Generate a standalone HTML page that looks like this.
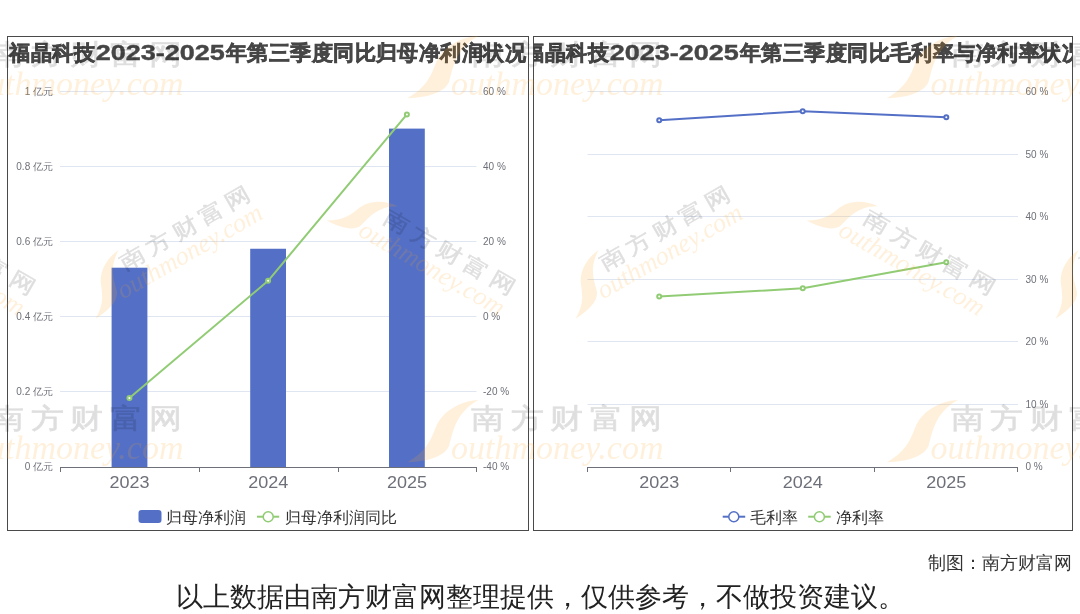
<!DOCTYPE html>
<html><head><meta charset="utf-8">
<style>
html,body{margin:0;padding:0;background:#fff;}
body{width:1080px;height:614px;overflow:hidden;position:relative;font-family:"Liberation Sans", sans-serif;}
svg{position:absolute;left:0;top:0;will-change:transform;}
text{font-family:"Liberation Sans", sans-serif;}
</style></head><body>
<svg width="1080" height="614" viewBox="0 0 1080 614">
<defs>
<clipPath id="cl"><rect x="8" y="37" width="520" height="493"/></clipPath>
<clipPath id="cr"><rect x="534" y="37" width="538" height="493"/></clipPath>
</defs>
<rect x="0" y="0" width="1080" height="614" fill="#fff"/>

<g>
<rect x="60" y="91" width="416.5" height="1" fill="#E0E6F1"/>
<rect x="60" y="166" width="416.5" height="1" fill="#E0E6F1"/>
<rect x="60" y="241" width="416.5" height="1" fill="#E0E6F1"/>
<rect x="60" y="316" width="416.5" height="1" fill="#E0E6F1"/>
<rect x="60" y="391" width="416.5" height="1" fill="#E0E6F1"/>
<rect x="111.6" y="267.7" width="35.8" height="199.3" fill="#5470C6"/>
<rect x="250.2" y="248.75" width="35.8" height="218.25" fill="#5470C6"/>
<rect x="389.0" y="128.6" width="35.8" height="338.4" fill="#5470C6"/>
<rect x="60" y="467" width="416.5" height="1" fill="#6E7079"/>
<rect x="60" y="467" width="1" height="5" fill="#6E7079"/>
<rect x="199" y="467" width="1" height="5" fill="#6E7079"/>
<rect x="338" y="467" width="1" height="5" fill="#6E7079"/>
<rect x="476" y="467" width="1" height="5" fill="#6E7079"/>
<polyline points="129.4,397.9 268.1,280.8 406.9,114.4" fill="none" stroke="#91CC75" stroke-width="2" stroke-linejoin="round"/>
<circle cx="129.4" cy="397.9" r="2" fill="#fff" stroke="#91CC75" stroke-width="2"/>
<circle cx="268.1" cy="280.8" r="2" fill="#fff" stroke="#91CC75" stroke-width="2"/>
<circle cx="406.9" cy="114.4" r="2" fill="#fff" stroke="#91CC75" stroke-width="2"/>
<text x="53" y="94.5" text-anchor="end" font-size="10" fill="#6E7079">1 亿元</text>
<text x="53" y="169.5" text-anchor="end" font-size="10" fill="#6E7079">0.8 亿元</text>
<text x="53" y="244.5" text-anchor="end" font-size="10" fill="#6E7079">0.6 亿元</text>
<text x="53" y="319.5" text-anchor="end" font-size="10" fill="#6E7079">0.4 亿元</text>
<text x="53" y="394.5" text-anchor="end" font-size="10" fill="#6E7079">0.2 亿元</text>
<text x="53" y="469.5" text-anchor="end" font-size="10" fill="#6E7079">0 亿元</text>
<text x="483" y="94.5" font-size="10" fill="#6E7079">60 %</text>
<text x="483" y="169.5" font-size="10" fill="#6E7079">40 %</text>
<text x="483" y="244.5" font-size="10" fill="#6E7079">20 %</text>
<text x="483" y="319.5" font-size="10" fill="#6E7079">0 %</text>
<text x="483" y="394.5" font-size="10" fill="#6E7079">-20 %</text>
<text x="483" y="469.5" font-size="10" fill="#6E7079">-40 %</text>
<text x="129.4" y="488" text-anchor="middle" font-size="16" fill="#6E7079" textLength="40" lengthAdjust="spacingAndGlyphs">2023</text>
<text x="268.2" y="488" text-anchor="middle" font-size="16" fill="#6E7079" textLength="40" lengthAdjust="spacingAndGlyphs">2024</text>
<text x="407" y="488" text-anchor="middle" font-size="16" fill="#6E7079" textLength="40" lengthAdjust="spacingAndGlyphs">2025</text>
<rect x="138.5" y="510" width="23" height="13" rx="3" fill="#5470C6"/>
<text x="166" y="522.5" font-size="16" fill="#333">归母净利润</text>
<line x1="257" y1="516.7" x2="279.2" y2="516.7" stroke="#91CC75" stroke-width="2"/>
<circle cx="268.2" cy="516.7" r="5" fill="#fff" stroke="#91CC75" stroke-width="1.5"/>
<text x="284.5" y="522.5" font-size="16" fill="#333">归母净利润同比</text>
</g>
<g>
<rect x="587.5" y="91" width="430.5" height="1" fill="#E0E6F1"/>
<rect x="587.5" y="154" width="430.5" height="1" fill="#E0E6F1"/>
<rect x="587.5" y="216" width="430.5" height="1" fill="#E0E6F1"/>
<rect x="587.5" y="279" width="430.5" height="1" fill="#E0E6F1"/>
<rect x="587.5" y="341" width="430.5" height="1" fill="#E0E6F1"/>
<rect x="587.5" y="404" width="430.5" height="1" fill="#E0E6F1"/>
<rect x="587.5" y="467" width="430.5" height="1" fill="#6E7079"/>
<rect x="587" y="467" width="1" height="5" fill="#6E7079"/>
<rect x="730" y="467" width="1" height="5" fill="#6E7079"/>
<rect x="874" y="467" width="1" height="5" fill="#6E7079"/>
<rect x="1017" y="467" width="1" height="5" fill="#6E7079"/>
<polyline points="659.2,120.2 802.7,111.3 946.3,117.2" fill="none" stroke="#5470C6" stroke-width="2" stroke-linejoin="round"/>
<circle cx="659.2" cy="120.2" r="2" fill="#fff" stroke="#5470C6" stroke-width="2"/>
<circle cx="802.7" cy="111.3" r="2" fill="#fff" stroke="#5470C6" stroke-width="2"/>
<circle cx="946.3" cy="117.2" r="2" fill="#fff" stroke="#5470C6" stroke-width="2"/>
<polyline points="659.2,296.6 802.8,288.3 946.3,262.2" fill="none" stroke="#91CC75" stroke-width="2" stroke-linejoin="round"/>
<circle cx="659.2" cy="296.6" r="2" fill="#fff" stroke="#91CC75" stroke-width="2"/>
<circle cx="802.8" cy="288.3" r="2" fill="#fff" stroke="#91CC75" stroke-width="2"/>
<circle cx="946.3" cy="262.2" r="2" fill="#fff" stroke="#91CC75" stroke-width="2"/>
<text x="1025.5" y="94.5" font-size="10" fill="#6E7079">60 %</text>
<text x="1025.5" y="157.5" font-size="10" fill="#6E7079">50 %</text>
<text x="1025.5" y="219.5" font-size="10" fill="#6E7079">40 %</text>
<text x="1025.5" y="282.5" font-size="10" fill="#6E7079">30 %</text>
<text x="1025.5" y="344.5" font-size="10" fill="#6E7079">20 %</text>
<text x="1025.5" y="407.5" font-size="10" fill="#6E7079">10 %</text>
<text x="1025.5" y="469.5" font-size="10" fill="#6E7079">0 %</text>
<text x="659.2" y="488" text-anchor="middle" font-size="16" fill="#6E7079" textLength="40" lengthAdjust="spacingAndGlyphs">2023</text>
<text x="802.7" y="488" text-anchor="middle" font-size="16" fill="#6E7079" textLength="40" lengthAdjust="spacingAndGlyphs">2024</text>
<text x="946.3" y="488" text-anchor="middle" font-size="16" fill="#6E7079" textLength="40" lengthAdjust="spacingAndGlyphs">2025</text>
<line x1="722.7" y1="516.7" x2="745.2" y2="516.7" stroke="#5470C6" stroke-width="2"/>
<circle cx="733.8" cy="516.7" r="5" fill="#fff" stroke="#5470C6" stroke-width="1.5"/>
<text x="750" y="522.5" font-size="16" fill="#333">毛利率</text>
<line x1="808.2" y1="516.7" x2="830.7" y2="516.7" stroke="#91CC75" stroke-width="2"/>
<circle cx="819.4" cy="516.7" r="5" fill="#fff" stroke="#91CC75" stroke-width="1.5"/>
<text x="835.5" y="522.5" font-size="16" fill="#333">净利率</text>
</g>
<g clip-path="url(#cl)" font-weight="bold" fill="#464646" font-size="21.5">
<text x="9.30 30.77 52.24 73.71" y="59.5" font-size="21.4" stroke="#464646" stroke-width="0.6">福晶科技</text>
<text x="95.68" y="59.5" textLength="129" lengthAdjust="spacingAndGlyphs" stroke="#464646" stroke-width="0.4">2023-2025</text>
<text x="225.68 247.15 268.62 290.09 311.56 333.03 354.50 375.97 397.44 418.91 440.38 461.85 483.32 504.79" y="59.5" font-size="21.4" stroke="#464646" stroke-width="0.6">年第三季度同比归母净利润状况</text>
</g>
<g clip-path="url(#cr)" font-weight="bold" fill="#464646" font-size="21.5">
<text x="523.30 544.77 566.24 587.71" y="59.5" font-size="21.4" stroke="#464646" stroke-width="0.6">福晶科技</text>
<text x="609.68" y="59.5" textLength="129" lengthAdjust="spacingAndGlyphs" stroke="#464646" stroke-width="0.4">2023-2025</text>
<text x="739.68 761.15 782.62 804.09 825.56 847.03 868.50 889.97 911.44 932.91 954.38 975.85 997.32 1018.79 1040.26 1061.73" y="59.5" font-size="21.4" stroke="#464646" stroke-width="0.6">年第三季度同比毛利率与净利率状况</text>
</g>
<rect x="7.5" y="36.5" width="521" height="494" fill="none" stroke="#4a4a4a" stroke-width="1"/>
<rect x="533.5" y="36.5" width="539" height="494" fill="none" stroke="#4a4a4a" stroke-width="1"/>
<g transform="translate(-72.5,36)"><path d="M70.7 0 C52 1 34 12 28 28 C23 41 18 52 0 62.2 C22 61.5 37 56 41.5 46 C45 36 46 14 70.7 0 Z" fill="rgb(255,160,30)" fill-opacity="0.16"/><g opacity="0.125" transform="scale(1.18,1)"><text x="54.2 87.6 121.0 154.4 187.8" y="28" font-size="28" fill="#000" stroke="#000" stroke-width="0.7" stroke-linejoin="round">南方财富网</text></g><text x="43.5" y="58.5" font-size="34" font-style="italic" fill="rgb(255,160,30)" fill-opacity="0.16" style="font-family:'Liberation Serif',serif">outhmoney.com</text></g>
<g transform="translate(-72.5,400)"><path d="M70.7 0 C52 1 34 12 28 28 C23 41 18 52 0 62.2 C22 61.5 37 56 41.5 46 C45 36 46 14 70.7 0 Z" fill="rgb(255,160,30)" fill-opacity="0.16"/><g opacity="0.125" transform="scale(1.18,1)"><text x="54.2 87.6 121.0 154.4 187.8" y="28" font-size="28" fill="#000" stroke="#000" stroke-width="0.7" stroke-linejoin="round">南方财富网</text></g><text x="43.5" y="58.5" font-size="34" font-style="italic" fill="rgb(255,160,30)" fill-opacity="0.16" style="font-family:'Liberation Serif',serif">outhmoney.com</text></g>
<g transform="translate(407.5,36)"><path d="M70.7 0 C52 1 34 12 28 28 C23 41 18 52 0 62.2 C22 61.5 37 56 41.5 46 C45 36 46 14 70.7 0 Z" fill="rgb(255,160,30)" fill-opacity="0.16"/><g opacity="0.125" transform="scale(1.18,1)"><text x="54.2 87.6 121.0 154.4 187.8" y="28" font-size="28" fill="#000" stroke="#000" stroke-width="0.7" stroke-linejoin="round">南方财富网</text></g><text x="43.5" y="58.5" font-size="34" font-style="italic" fill="rgb(255,160,30)" fill-opacity="0.16" style="font-family:'Liberation Serif',serif">outhmoney.com</text></g>
<g transform="translate(407.5,400)"><path d="M70.7 0 C52 1 34 12 28 28 C23 41 18 52 0 62.2 C22 61.5 37 56 41.5 46 C45 36 46 14 70.7 0 Z" fill="rgb(255,160,30)" fill-opacity="0.16"/><g opacity="0.125" transform="scale(1.18,1)"><text x="54.2 87.6 121.0 154.4 187.8" y="28" font-size="28" fill="#000" stroke="#000" stroke-width="0.7" stroke-linejoin="round">南方财富网</text></g><text x="43.5" y="58.5" font-size="34" font-style="italic" fill="rgb(255,160,30)" fill-opacity="0.16" style="font-family:'Liberation Serif',serif">outhmoney.com</text></g>
<g transform="translate(887,36)"><path d="M70.7 0 C52 1 34 12 28 28 C23 41 18 52 0 62.2 C22 61.5 37 56 41.5 46 C45 36 46 14 70.7 0 Z" fill="rgb(255,160,30)" fill-opacity="0.16"/><g opacity="0.125" transform="scale(1.18,1)"><text x="54.2 87.6 121.0 154.4 187.8" y="28" font-size="28" fill="#000" stroke="#000" stroke-width="0.7" stroke-linejoin="round">南方财富网</text></g><text x="43.5" y="58.5" font-size="34" font-style="italic" fill="rgb(255,160,30)" fill-opacity="0.16" style="font-family:'Liberation Serif',serif">outhmoney.com</text></g>
<g transform="translate(887,400)"><path d="M70.7 0 C52 1 34 12 28 28 C23 41 18 52 0 62.2 C22 61.5 37 56 41.5 46 C45 36 46 14 70.7 0 Z" fill="rgb(255,160,30)" fill-opacity="0.16"/><g opacity="0.125" transform="scale(1.18,1)"><text x="54.2 87.6 121.0 154.4 187.8" y="28" font-size="28" fill="#000" stroke="#000" stroke-width="0.7" stroke-linejoin="round">南方财富网</text></g><text x="43.5" y="58.5" font-size="34" font-style="italic" fill="rgb(255,160,30)" fill-opacity="0.16" style="font-family:'Liberation Serif',serif">outhmoney.com</text></g>
<g transform="translate(-129.39999999999998,179.1) rotate(30) scale(0.77)"><path d="M70.7 0 C52 1 34 12 28 28 C23 41 18 52 0 62.2 C22 61.5 37 56 41.5 46 C45 36 46 14 70.7 0 Z" fill="rgb(255,160,30)" fill-opacity="0.16"/><g opacity="0.125" transform="scale(1.18,1)"><text x="54.2 87.6 121.0 154.4 187.8" y="28" font-size="28" fill="#000" stroke="#000" stroke-width="0.7" stroke-linejoin="round">南方财富网</text></g><text x="43.5" y="58.5" font-size="34" font-style="italic" fill="rgb(255,160,30)" fill-opacity="0.16" style="font-family:'Liberation Serif',serif">outhmoney.com</text></g>
<g transform="translate(350.6,179.1) rotate(30) scale(0.77)"><path d="M70.7 0 C52 1 34 12 28 28 C23 41 18 52 0 62.2 C22 61.5 37 56 41.5 46 C45 36 46 14 70.7 0 Z" fill="rgb(255,160,30)" fill-opacity="0.16"/><g opacity="0.125" transform="scale(1.18,1)"><text x="54.2 87.6 121.0 154.4 187.8" y="28" font-size="28" fill="#000" stroke="#000" stroke-width="0.7" stroke-linejoin="round">南方财富网</text></g><text x="43.5" y="58.5" font-size="34" font-style="italic" fill="rgb(255,160,30)" fill-opacity="0.16" style="font-family:'Liberation Serif',serif">outhmoney.com</text></g>
<g transform="translate(830.6,179.1) rotate(30) scale(0.77)"><path d="M70.7 0 C52 1 34 12 28 28 C23 41 18 52 0 62.2 C22 61.5 37 56 41.5 46 C45 36 46 14 70.7 0 Z" fill="rgb(255,160,30)" fill-opacity="0.16"/><g opacity="0.125" transform="scale(1.18,1)"><text x="54.2 87.6 121.0 154.4 187.8" y="28" font-size="28" fill="#000" stroke="#000" stroke-width="0.7" stroke-linejoin="round">南方财富网</text></g><text x="43.5" y="58.5" font-size="34" font-style="italic" fill="rgb(255,160,30)" fill-opacity="0.16" style="font-family:'Liberation Serif',serif">outhmoney.com</text></g>
<g transform="translate(71.6,277.2) rotate(-30) scale(0.77)"><path d="M70.7 0 C52 1 34 12 28 28 C23 41 18 52 0 62.2 C22 61.5 37 56 41.5 46 C45 36 46 14 70.7 0 Z" fill="rgb(255,160,30)" fill-opacity="0.16"/><g opacity="0.125" transform="scale(1.18,1)"><text x="54.2 87.6 121.0 154.4 187.8" y="28" font-size="28" fill="#000" stroke="#000" stroke-width="0.7" stroke-linejoin="round">南方财富网</text></g><text x="43.5" y="58.5" font-size="34" font-style="italic" fill="rgb(255,160,30)" fill-opacity="0.16" style="font-family:'Liberation Serif',serif">outhmoney.com</text></g>
<g transform="translate(551.6,277.2) rotate(-30) scale(0.77)"><path d="M70.7 0 C52 1 34 12 28 28 C23 41 18 52 0 62.2 C22 61.5 37 56 41.5 46 C45 36 46 14 70.7 0 Z" fill="rgb(255,160,30)" fill-opacity="0.16"/><g opacity="0.125" transform="scale(1.18,1)"><text x="54.2 87.6 121.0 154.4 187.8" y="28" font-size="28" fill="#000" stroke="#000" stroke-width="0.7" stroke-linejoin="round">南方财富网</text></g><text x="43.5" y="58.5" font-size="34" font-style="italic" fill="rgb(255,160,30)" fill-opacity="0.16" style="font-family:'Liberation Serif',serif">outhmoney.com</text></g>
<g transform="translate(1031.6,277.2) rotate(-30) scale(0.77)"><path d="M70.7 0 C52 1 34 12 28 28 C23 41 18 52 0 62.2 C22 61.5 37 56 41.5 46 C45 36 46 14 70.7 0 Z" fill="rgb(255,160,30)" fill-opacity="0.16"/><g opacity="0.125" transform="scale(1.18,1)"><text x="54.2 87.6 121.0 154.4 187.8" y="28" font-size="28" fill="#000" stroke="#000" stroke-width="0.7" stroke-linejoin="round">南方财富网</text></g><text x="43.5" y="58.5" font-size="34" font-style="italic" fill="rgb(255,160,30)" fill-opacity="0.16" style="font-family:'Liberation Serif',serif">outhmoney.com</text></g>
<text x="1072" y="569" text-anchor="end" font-size="18" fill="#333">制图：南方财富网</text>
<text x="540" y="606" text-anchor="middle" font-size="27" fill="#222">以上数据由南方财富网整理提供，仅供参考，不做投资建议。</text>
</svg></body></html>
